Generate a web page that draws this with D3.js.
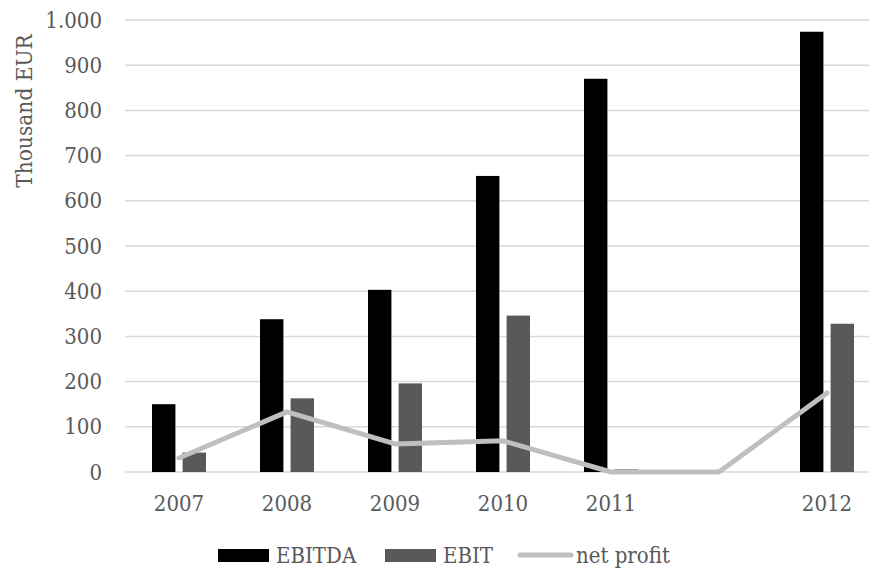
<!DOCTYPE html>
<html>
<head>
<meta charset="utf-8">
<script src="https://cdn.jsdelivr.net/npm/d3@7"></script>
<style>
  body { margin: 0; background: #fff; }
  svg { display: block; }
  text { font-family: "DejaVu Serif Condensed", "DejaVu Serif", serif; font-stretch: condensed; fill: #595959; }
</style>
</head>
<body>
<script>
// data
const years = ["2007", "2008", "2009", "2010", "2011", "", "2012"];
const ebitda = [150, 338, 403, 655, 870, null, 974];
const ebit = [43, 163, 196, 346, 6, null, 328];
const netProfit = [31, 133, 62, 69, 0, 0, 175];
const yTicks = [0, 100, 200, 300, 400, 500, 600, 700, 800, 900, 1000];
const seriesNames = ["EBITDA", "EBIT"];

const width = 869;
const height = 569;
const plotLeft = 125, plotRight = 881, plotTop = 20, plotBottom = 472;
const fontFam = "'DejaVu Serif Condensed', 'DejaVu Serif', serif";

const svg = d3.select("body")
    .append("svg")
    .attr("width", width)
    .attr("height", height);

// scales
const xScale = d3.scaleBand()
    .domain(years)
    .range([plotLeft, plotRight])
    .paddingInner(0.5)
    .paddingOuter(0.25);

const inner = d3.scaleBand()
    .domain(seriesNames)
    .range([0, xScale.bandwidth()])
    .paddingInner(0.235);

const yScale = d3.scaleLinear()
    .domain([0, 1000])
    .range([plotBottom, plotTop]);

const colors = { "EBITDA": "#000000", "EBIT": "#595959" };

// gridlines
svg.append("g")
    .selectAll("line")
    .data(yTicks)
    .enter()
    .append("line")
    .attr("x1", plotLeft)
    .attr("x2", plotRight)
    .attr("y1", d => yScale(d))
    .attr("y2", d => yScale(d))
    .attr("stroke", "#d9d9d9")
    .attr("stroke-width", 1.5);

// left axis labels
const leftAxis = d3.axisLeft(yScale)
    .tickValues(yTicks)
    .tickSize(0)
    .tickPadding(23)
    .tickFormat(d => d3.format(",")(d).replace(",", "."));

svg.append("g")
    .attr("transform", "translate(" + plotLeft + ",0)")
    .call(leftAxis)
    .call(g => g.select(".domain").remove())
    .selectAll("text")
    .attr("font-size", 22)
    .attr("font-family", fontFam)
    .attr("fill", "#595959");

// bottom axis labels
const bottomAxis = d3.axisBottom(xScale).tickSize(0).tickPadding(23);

svg.append("g")
    .attr("transform", "translate(0," + plotBottom + ")")
    .call(bottomAxis)
    .call(g => g.select(".domain").remove())
    .selectAll("text")
    .attr("font-size", 22)
    .attr("font-family", fontFam)
    .attr("fill", "#595959");

// bars
const seriesData = { "EBITDA": ebitda, "EBIT": ebit };
seriesNames.forEach(name => {
    svg.append("g")
        .selectAll("rect")
        .data(years.map((y, i) => ({ year: y, value: seriesData[name][i] })).filter(d => d.value != null))
        .enter()
        .append("rect")
        .attr("x", d => xScale(d.year) + inner(name))
        .attr("y", d => yScale(d.value))
        .attr("width", inner.bandwidth())
        .attr("height", d => plotBottom - yScale(d.value))
        .attr("fill", colors[name]);
});

// net profit line
const line = d3.line()
    .x((d, i) => xScale(years[i]) + xScale.bandwidth() / 2)
    .y(d => yScale(d));

svg.append("path")
    .datum(netProfit)
    .attr("d", line)
    .attr("fill", "none")
    .attr("stroke", "#bfbfbf")
    .attr("stroke-width", 5)
    .attr("stroke-linejoin", "round")
    .attr("stroke-linecap", "round");

// y title
svg.append("text")
    .attr("transform", "translate(32,111) rotate(-90)")
    .attr("text-anchor", "middle")
    .attr("font-size", 22.5)
    .attr("font-family", fontFam)
    .text("Thousand EUR");

// legend
const legend = svg.append("g");
const legendItems = [
    { name: "EBITDA", x: 218, type: "rect" },
    { name: "EBIT", x: 385, type: "rect" },
    { name: "net profit", x: 518, type: "line" }
];
legendItems.forEach(item => {
    if (item.type === "rect") {
        legend.append("rect")
            .attr("x", item.x)
            .attr("y", 549)
            .attr("width", 51)
            .attr("height", 13)
            .attr("fill", colors[item.name]);
    } else {
        legend.append("line")
            .attr("x1", item.x + 2)
            .attr("x2", item.x + 53)
            .attr("y1", 555)
            .attr("y2", 555)
            .attr("stroke", "#bfbfbf")
            .attr("stroke-width", 5)
            .attr("stroke-linecap", "round");
    }
    legend.append("text")
        .attr("x", item.x + 58)
        .attr("y", 563)
        .attr("font-size", 22)
        .attr("font-family", fontFam)
        .text(item.name);
});
</script>
</body>
</html>
